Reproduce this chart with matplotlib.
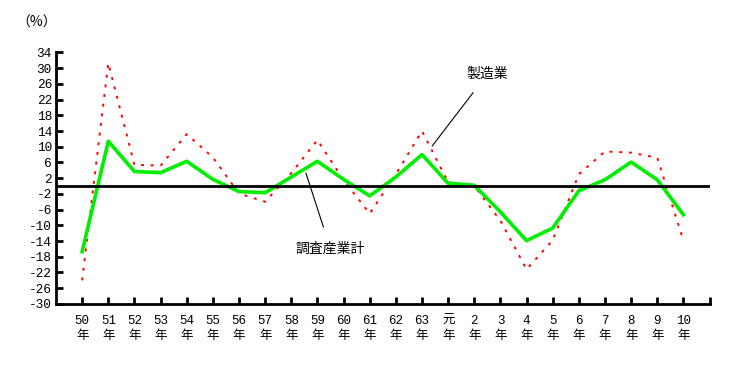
import matplotlib
matplotlib.use('Agg')
import matplotlib.pyplot as plt

plt.rcParams['font.family'] = ['Noto Sans CJK JP', 'DejaVu Sans']

# 年次（昭和50年〜平成10年）
years = ['50', '51', '52', '53', '54', '55', '56', '57', '58', '59', '60', '61',
         '62', '63', '元', '2', '3', '4', '5', '6', '7', '8', '9', '10']

# 調査産業計（%）
total = [-16.7, 11.4, 3.7, 3.4, 6.3, 1.7, -1.4, -1.7, 2.3, 6.3, 1.7, -2.5,
         2.3, 8.0, 0.7, 0.2, -6.6, -13.9, -10.7, -1.2, 1.6, 6.1, 1.6, -7.3]

# 製造業（%）
manuf = [-24.0, 31.3, 5.4, 5.2, 13.2, 7.3, -1.9, -4.0, 3.3, 11.7, 1.5, -7.0,
         3.0, 14.0, 1.0, 0.0, -8.8, -21.2, -13.8, 3.0, 8.8, 8.5, 7.2, -13.9]

yticks = list(range(-30, 35, 4))
num_font = ['Liberation Mono', 'Noto Sans CJK JP']

fig = plt.figure(figsize=(7.41, 3.72), dpi=100)
ax = fig.add_axes([0.0756, 0.183, 0.882, 0.676])

x = list(range(len(years)))
ax.plot(x, manuf, color='#ff0000', linewidth=1.4, linestyle=(0, (1.5, 3.5)))
ax.plot(x, total, color='#00ee00', linewidth=2.6)
ax.axhline(0, color='black', linewidth=2)

ax.set_xlim(-1, 24)
ax.set_ylim(-30, 34)
ax.set_yticks(yticks)
ax.set_yticklabels([str(v) for v in yticks], fontsize=9.2, family=num_font)
ax.set_xticks(x + [24])
ax.set_xticklabels([y + '\n年' for y in years] + [''], fontsize=9,
                   family=num_font, linespacing=1.35)

ax.spines['top'].set_visible(False)
ax.spines['right'].set_visible(False)
for s in ['left', 'bottom']:
    ax.spines[s].set_linewidth(2)
ax.tick_params(axis='y', direction='in', length=5, width=2, pad=3)
ax.tick_params(axis='x', direction='in', length=5, width=2, pad=8)

# 系列名の注記
ax.annotate('製造業', xy=(13.39, 10.2), xytext=(15.5, 28.5), fontsize=10,
            ha='center', va='center',
            arrowprops=dict(arrowstyle='-', color='black', linewidth=0.8,
                            shrinkA=8, shrinkB=0))
ax.annotate('調査産業計', xy=(8.56, 3.3), xytext=(9.5, -16.0), fontsize=10,
            ha='center', va='center',
            arrowprops=dict(arrowstyle='-', color='black', linewidth=0.8,
                            shrinkA=9, shrinkB=0))

fig.text(0.022, 0.94, '（%）', fontsize=10, va='center')

fig.savefig('out.png', dpi=100)
